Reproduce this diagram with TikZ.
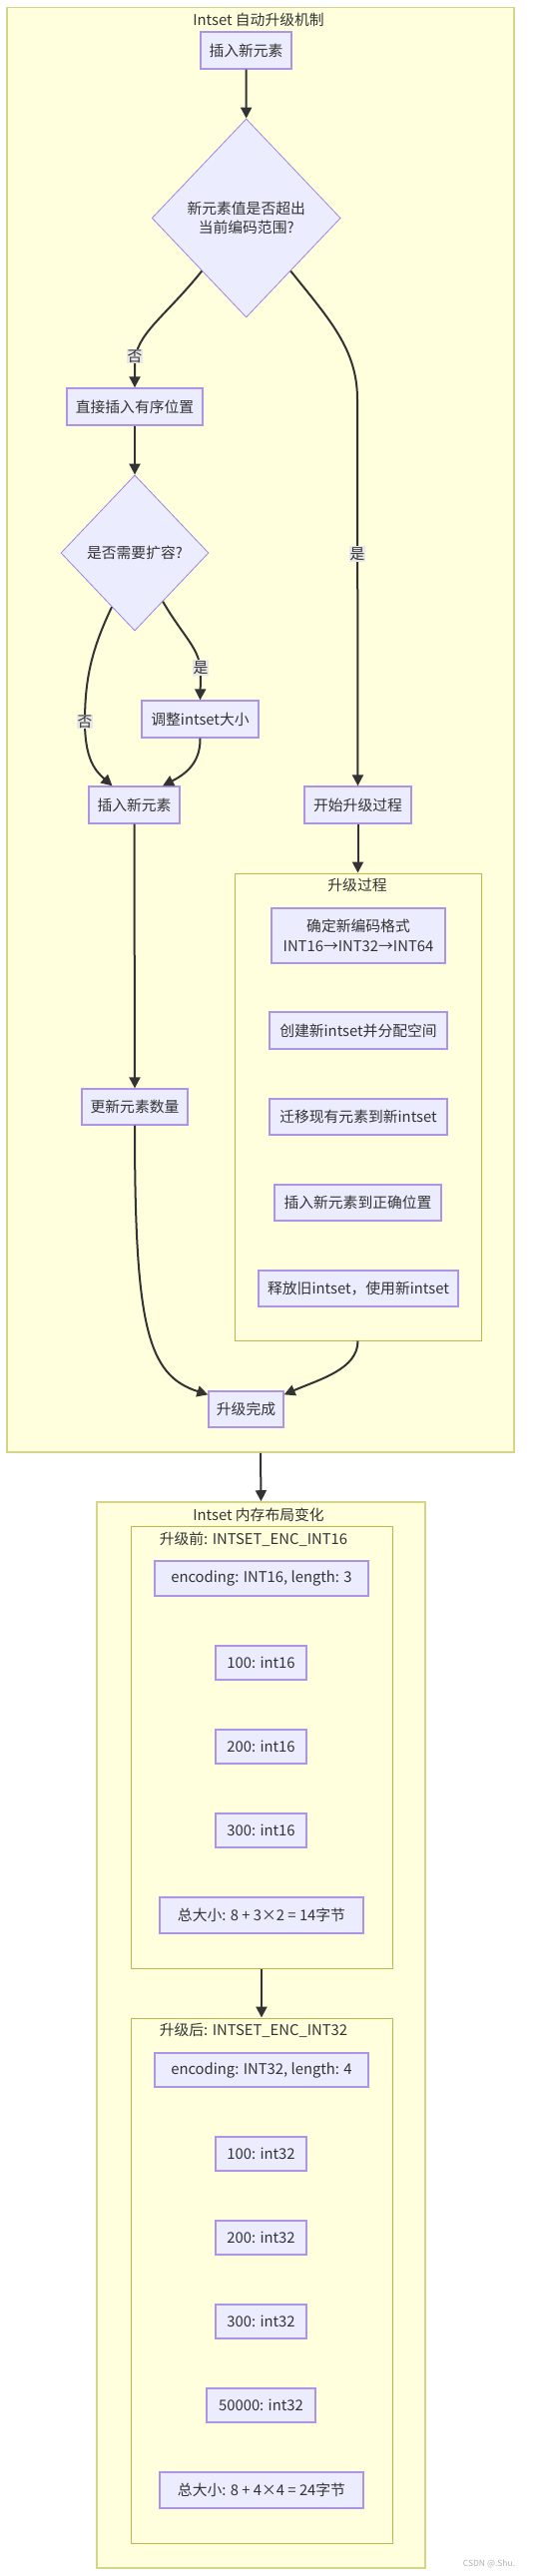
\documentclass[tikz,border=0pt]{standalone}
\usepackage{fontspec}
\setmainfont{Noto Sans CJK SC}
\usetikzlibrary{arrows.meta,shapes.geometric,calc}
\definecolor{nodefill}{HTML}{ECECFF}
\definecolor{nodedraw}{HTML}{AE94E4}
\definecolor{diadraw}{HTML}{9F84E0}
\definecolor{clusterfill}{HTML}{FFFFDE}
\definecolor{outerdraw}{HTML}{D5D58A}
\definecolor{innerdraw}{HTML}{B9B94E}
\definecolor{txt}{HTML}{333333}
\definecolor{edgecol}{HTML}{333333}
\definecolor{lblbg}{HTML}{E8E8E8}
\begin{document}
\begin{tikzpicture}[x=1pt,y=-1pt,
  font=\fontsize{14.8}{19.5}\selectfont, text=txt,
  box/.style={draw=nodedraw, fill=nodefill, line width=1.3pt, inner sep=0pt, align=center},
  dia/.style={diamond, draw=diadraw, fill=nodefill, line width=0.8pt, inner sep=0pt, align=center},
  outerc/.style={draw=outerdraw, fill=clusterfill, line width=1.6pt, inner sep=0pt},
  innerc/.style={draw=innerdraw, fill=clusterfill, line width=1pt, inner sep=0pt},
  ttl/.style={inner sep=0pt},
  lbl/.style={fill=lblbg, inner sep=1pt},
  arr/.style={draw=edgecol, line width=2pt, -{Triangle[length=11pt,width=11pt]}}
]
\fill[white] (0,0) rectangle (549,2581);
\useasboundingbox (0,0) rectangle (549,2581);

% clusters
\node[outerc, minimum width=508pt, minimum height=1447.5pt] (outer1) at (261,731.25) {};
\node[ttl] (t1) at (259,20) {Intset 自动升级机制};
\node[innerc, minimum width=247pt, minimum height=468pt] (sub) at (358.5,1109) {};
\node[ttl] (t2) at (358,887) {升级过程};

\node[outerc, minimum width=329pt, minimum height=1068pt] (outer2) at (261.5,2039) {};
\node[ttl] (t3) at (259,1518) {Intset 内存布局变化};
\node[innerc, minimum width=262pt, minimum height=443pt] (inner1) at (262,1750.5) {};
\node[ttl] (t4) at (254,1542) {升级前: INTSET\_ENC\_INT16};
\node[innerc, minimum width=262pt, minimum height=526pt] (inner2) at (262,2285) {};
\node[ttl] (t5) at (254,2034) {升级后: INTSET\_ENC\_INT32};

% flow nodes
\node[box, minimum width=91pt, minimum height=37pt] (n1) at (246.5,50.5) {插入新元素};
\node[dia, minimum width=189pt, minimum height=199pt] (d1) at (246.7,218.5) {新元素值是否超出\\当前编码范围?};
\node[box, minimum width=136pt, minimum height=37pt] (n2) at (135,407.5) {直接插入有序位置};
\node[dia, minimum width=148pt, minimum height=156pt] (d2) at (135,554) {是否需要扩容?};
\node[box, minimum width=117pt, minimum height=37pt] (n3) at (200.5,720.5) {调整intset大小};
\node[box, minimum width=91pt, minimum height=37pt] (n4) at (134.5,806.5) {插入新元素};
\node[box, minimum width=107pt, minimum height=37pt] (n5) at (358.5,806.5) {开始升级过程};
\node[box, minimum width=106pt, minimum height=36pt] (n6) at (135,1109) {更新元素数量};
\node[box, minimum width=174pt, minimum height=55pt] (s1) at (359,937.5) {确定新编码格式\\INT16→INT32→INT64};
\node[box, minimum width=178pt, minimum height=37pt] (s2) at (359,1032.5) {创建新intset并分配空间};
\node[box, minimum width=178pt, minimum height=36pt] (s3) at (359,1119) {迁移现有元素到新intset};
\node[box, minimum width=167pt, minimum height=36pt] (s4) at (358.5,1205) {插入新元素到正确位置};
\node[box, minimum width=200pt, minimum height=36pt] (s5) at (359,1291) {释放旧intset，使用新intset};
\node[box, minimum width=75pt, minimum height=36pt] (done) at (246.5,1412) {升级完成};

% memory layout nodes
\node[box, minimum width=214pt, minimum height=35pt] (m1) at (262,1581.5) {encoding: INT16, length: 3};
\node[box, minimum width=91pt, minimum height=34pt] (m2) at (261.5,1666) {100: int16};
\node[box, minimum width=91pt, minimum height=34pt] (m3) at (261.5,1750) {200: int16};
\node[box, minimum width=91pt, minimum height=34pt] (m4) at (261.5,1834) {300: int16};
\node[box, minimum width=204pt, minimum height=36pt] (m5) at (262,1919) {总大小: 8 + 3×2 = 14字节};
\node[box, minimum width=214pt, minimum height=34pt] (k1) at (262,2074) {encoding: INT32, length: 4};
\node[box, minimum width=91pt, minimum height=34pt] (k2) at (261.5,2158) {100: int32};
\node[box, minimum width=91pt, minimum height=34pt] (k3) at (261.5,2242) {200: int32};
\node[box, minimum width=91pt, minimum height=34pt] (k4) at (261.5,2326) {300: int32};
\node[box, minimum width=109pt, minimum height=34pt] (k5) at (261.5,2410) {50000: int32};
\node[box, minimum width=204pt, minimum height=36pt] (k6) at (262,2495) {总大小: 8 + 4×4 = 24字节};

% edges
\draw[arr] (n1.south) -- (d1.north);
\draw[arr] (d1.230) .. controls (165,318) and (135,335) .. (135,365) -- (n2.north);
\draw[arr] (d1.310) .. controls (330,320) and (358,350) .. (358,400) -- (n5.north);
\draw[arr] (n2.south) -- (d2.north);
\draw[arr] (d2.247) .. controls (92,650) and (85,680) .. (85,723) .. controls (85,760) and (95,772) .. ($(n4.north)+(-22,0)$);
\draw[arr] (d2.300) .. controls (185,640) and (201,650) .. (201,675) -- (n3.north);
\draw[arr] (n3.south) .. controls (201,765) and (185,776) .. ($(n4.north)+(28.5,0)$);
\draw[arr] (n5.south) -- (sub.north);
\draw[arr] (n4.south) -- (n6.north);
\draw[arr] (n6.south) .. controls (135,1330) and (148,1378) .. ($(done.north west)+(0,4)$);
\draw[arr] (sub.south) .. controls (358.5,1372) and (320,1382) .. ($(done.north east)+(0,4)$);
\draw[arr] (outer1.south) -- (outer2.north);
\draw[arr] (inner1.south) -- (inner2.north);

% edge labels
\node[lbl] (l1) at (135,357) {否};
\node[lbl] (l2) at (358,555) {是};
\node[lbl] (l3) at (85,723) {否};
\node[lbl] (l4) at (201,669) {是};

% watermark
\node[font=\fontsize{8.5}{10}\selectfont, text=black!30] (wm) at (490,2569) {CSDN @.Shu.};
\end{tikzpicture}
\end{document}
